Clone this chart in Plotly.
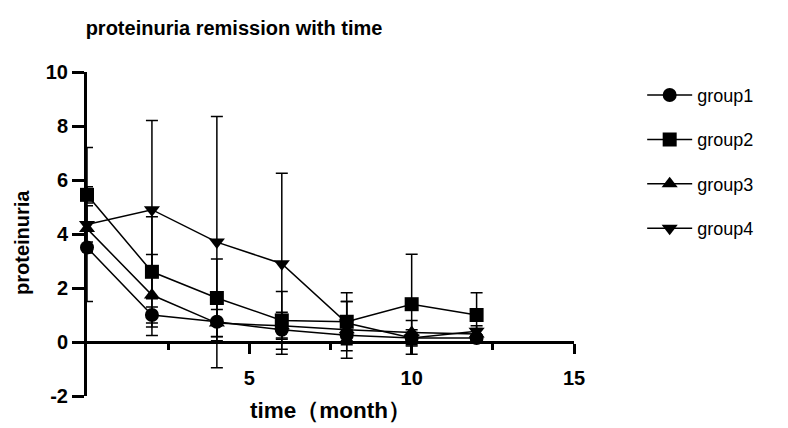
import plotly.graph_objects as go

months = [0, 2, 4, 6, 8, 10, 12]

group1 = [3.5, 1.0, 0.75, 0.45, 0.25, 0.15, 0.15]
group1_sd = [0.2, 0.3, 0.7, 0.3, 0.2, 0.2, 0.1]
group2 = [5.45, 2.6, 1.63, 0.8, 0.75, 1.4, 1.0]
group2_sd = [0.3, 2.04, 1.44, 1.07, 1.07, 1.85, 0.82]
group3 = [4.2, 1.74, 0.7, 0.6, 0.45, 0.35, 0.3]
group3_sd = [0.85, 1.5, 0.5, 0.5, 1.05, 0.45, 0.2]
group4 = [4.35, 4.9, 3.7, 2.9, 0.7, 0.15, 0.4]
group4_sd = [2.85, 3.3, 4.65, 3.35, 0.8, 0.3, 0.2]

names = ["group1", "group2", "group3", "group4"]
values = [group1, group2, group3, group4]
errors = [group1_sd, group2_sd, group3_sd, group4_sd]
symbols = ["circle", "square", "triangle-up", "triangle-down"]

x_ticks = [5, 10, 15]
x_minor = [2.5, 7.5, 12.5]
y_ticks = [-2, 0, 2, 4, 6, 8, 10]
y_labels = ["-2", "0", "2", "4", "6", "8", "10"]

FONT = "Liberation Sans, Arial, sans-serif"

# page body adds an 8px offset, so the figure is drawn 8px smaller
W, H = 780, 420
L, T = 79, 64
PW, PH = 487, 324

fig = go.Figure()
for name, vals, sd, sym in zip(names, values, errors, symbols):
    fig.add_trace(go.Scatter(
        x=months, y=vals, name=name, mode="lines+markers",
        line=dict(color="black", width=1.5),
        marker=dict(symbol=sym, size=14, color="black"),
        error_y=dict(type="data", array=sd, color="black", thickness=1.5, width=6),
        cliponaxis=False, legendgroup=name,
    ))

fig.update_layout(
    width=W, height=H,
    paper_bgcolor="white", plot_bgcolor="white",
    margin=dict(l=L, r=W - L - PW, t=T, b=H - T - PH, autoexpand=False),
    font=dict(family=FONT, color="black"),
    title=dict(text="<b>proteinuria remission with time</b>", x=226 / W, xanchor="center",
               y=1 - 20 / H, yanchor="middle", yref="container",
               font=dict(size=20, family=FONT)),
    legend=dict(x=1.14, y=0.985, xanchor="left", yanchor="top",
                font=dict(size=18, family=FONT), tracegroupgap=18, itemwidth=45,
                bgcolor="rgba(0,0,0,0)"),
    showlegend=True,
)

fig.update_xaxes(
    range=[0, 15], anchor="free", position=1 / 6,
    tickvals=x_ticks, ticks="outside", ticklen=10, tickwidth=3, tickcolor="black",
    minor=dict(tickvals=x_minor, ticks="outside", ticklen=6, tickwidth=3, tickcolor="black"),
    showline=True, linewidth=3, linecolor="black",
    showgrid=False, zeroline=False, ticklabelstandoff=7,
    tickfont=dict(size=20, weight="bold", family=FONT),
)
fig.update_yaxes(
    range=[-2, 10], tickvals=y_ticks, ticktext=y_labels,
    ticks="outside", ticklen=12, tickwidth=3, tickcolor="black",
    showline=True, linewidth=3, linecolor="black",
    showgrid=False, zeroline=False,
    tickfont=dict(size=20, weight="bold", family=FONT),
)

fig.add_annotation(text="<b>proteinuria</b>", x=(22 - 87) / PW, y=(396 - 243) / PH,
                   xref="paper", yref="paper", showarrow=False, textangle=-90,
                   xanchor="center", yanchor="middle",
                   font=dict(size=20, family=FONT))
fig.add_annotation(text="<b>time（month）</b>", x=(330 - 87) / PW, y=(396 - 410) / PH,
                   xref="paper", yref="paper", showarrow=False,
                   xanchor="center", yanchor="middle",
                   font=dict(size=22.5, family=FONT))

fig.write_html("out.html")
